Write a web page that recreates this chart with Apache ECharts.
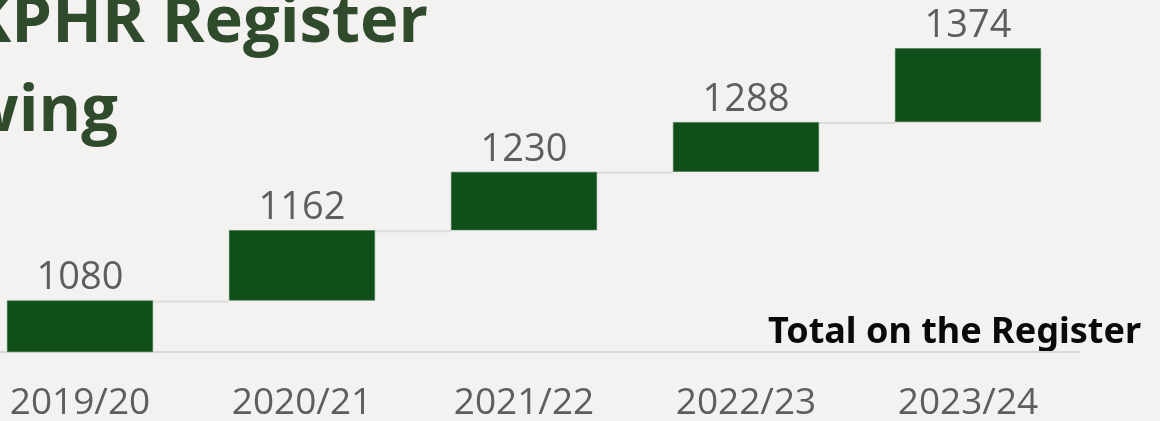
<!DOCTYPE html>
<html>
<head>
<meta charset="utf-8">
<style>
html,body{margin:0;padding:0;background:#f3f2f1;}
#chart{width:1160px;height:421px;}
</style>
<script src="https://cdn.jsdelivr.net/npm/echarts@6/dist/echarts.min.js"></script>
</head>
<body>
<div id="chart"></div>
<script>
// ---- data ----
const categories = ['2019/20', '2020/21', '2021/22', '2022/23', '2023/24'];
const totals = [1080, 1162, 1230, 1288, 1374];
const axisMin = 1020;
const axisMax = 1400;
const titleLines = ['UKPHR Register', 'growing'];
const legendText = 'Total on the Register';

// derived floating-bar pieces (each bar runs from the previous total to the current one)
const bases = totals.map((v, i) => i === 0 ? axisMin : totals[i - 1]);
const deltas = totals.map((v, i) => v - bases[i]);
const connectors = totals.slice(0, -1).map((v, i) => [i, v]);

const BAR_W = 146;
const chart = echarts.init(document.getElementById('chart'));
chart.setOption({
  backgroundColor: '#f3f2f1',
  animation: false,
  grid: { left: -31, right: 81, top: 26, bottom: 69, containLabel: false, outerBoundsMode: 'none' },
  xAxis: {
    type: 'category',
    data: categories,
    axisLine: { show: true, lineStyle: { color: '#dad9d8', width: 2 } },
    axisTick: { show: false },
    axisLabel: { color: '#605e5c', fontSize: 37, fontFamily: 'Open Sans', margin: 33 },
    splitLine: { show: false }
  },
  yAxis: {
    type: 'value', min: axisMin, max: axisMax,
    show: false, splitLine: { show: false }
  },
  series: [
    {
      type: 'custom',
      z: 1,
      data: connectors,
      renderItem: function (params, api) {
        const p = api.coord([api.value(0), api.value(1)]);
        const w = api.size([1, 0])[0];
        return {
          type: 'line',
          shape: { x1: p[0] + BAR_W / 2, y1: p[1] + 1, x2: p[0] + w - BAR_W / 2, y2: p[1] + 1 },
          style: { stroke: '#dcdbda', lineWidth: 2 }
        };
      }
    },
    {
      type: 'bar', stack: 'wf', z: 2,
      data: bases,
      barWidth: BAR_W,
      itemStyle: { color: 'transparent' },
      emphasis: { disabled: true },
      silent: true
    },
    {
      type: 'bar', stack: 'wf', z: 3,
      data: deltas,
      barWidth: BAR_W,
      itemStyle: { color: '#0f4f1a', borderColor: '#3f7349', borderWidth: 0.6 },
      label: {
        show: true, position: 'top', distance: 3,
        color: '#605e5c', fontSize: 38, fontFamily: 'Open Sans',
        formatter: function (p) { return totals[p.dataIndex]; }
      }
    }
  ],
  graphic: [
    {
      type: 'text', x: 428, y: 23,
      style: { text: titleLines[0], fill: '#304a2c', font: 'bold 65px "Open Sans"', textAlign: 'right', textVerticalAlign: 'middle' }
    },
    {
      type: 'text', x: 118, y: 112,
      style: { text: titleLines[1], fill: '#304a2c', font: 'bold 65px "Open Sans"', textAlign: 'right', textVerticalAlign: 'middle' }
    },
    {
      type: 'text', x: 1141, y: 333,
      style: { text: legendText, fill: '#0a0a0a', font: 'bold 36px "Noto Sans"', textAlign: 'right', textVerticalAlign: 'middle' }
    }
  ]
});
</script>
</body>
</html>
